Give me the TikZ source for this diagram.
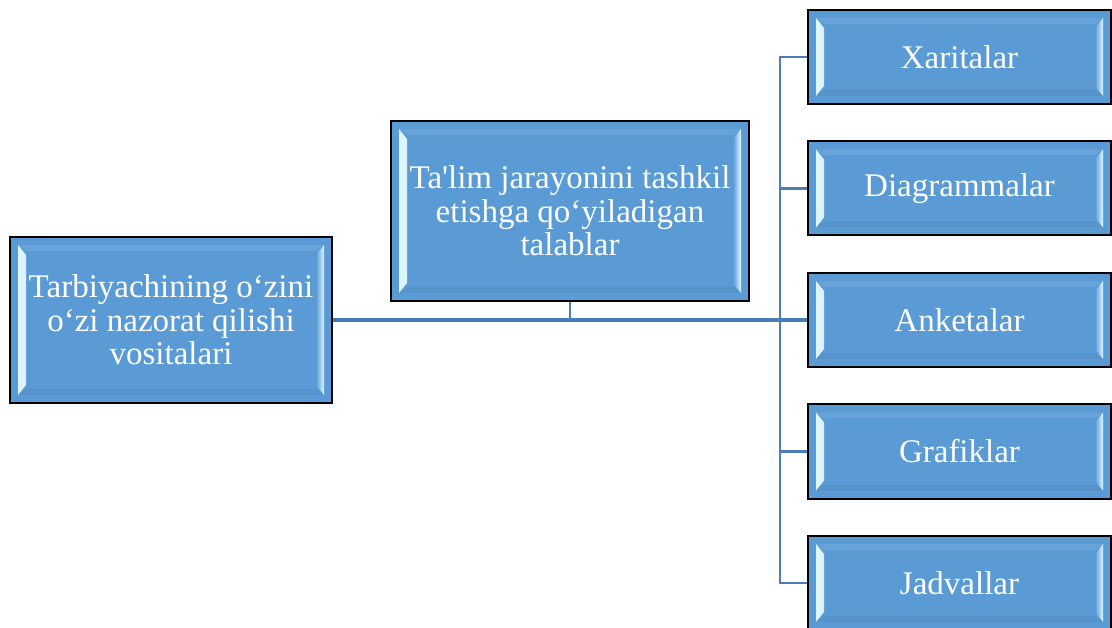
\documentclass[tikz,border=0pt]{standalone}
\usepackage{fontspec}
\setmainfont{Liberation Serif}
\usetikzlibrary{calc}
\definecolor{boxblue}{HTML}{5B9BD5}
\definecolor{bevel}{HTML}{E2F7FF}
\definecolor{linkblue}{HTML}{4A7EB4}
\tikzset{
  bx/.style={draw=black, line width=2pt, fill=boxblue, text=white, align=center,
    inner sep=0pt, font=\fontsize{33}{33.5}\selectfont,
    path picture={
      \shade[left color=bevel, right color=boxblue]
        ([xshift=8pt,yshift=-8pt]path picture bounding box.north west) --
        ([xshift=16pt,yshift=-18pt]path picture bounding box.north west) --
        ([xshift=16pt,yshift=18pt]path picture bounding box.south west) --
        ([xshift=8pt,yshift=8pt]path picture bounding box.south west) -- cycle;
      \shade[right color=bevel, left color=boxblue]
        ([xshift=-8pt,yshift=-8pt]path picture bounding box.north east) --
        ([xshift=-16pt,yshift=-18pt]path picture bounding box.north east) --
        ([xshift=-16pt,yshift=18pt]path picture bounding box.south east) --
        ([xshift=-8pt,yshift=8pt]path picture bounding box.south east) -- cycle;
      \fill[white, opacity=0.08]
        ([xshift=8pt,yshift=-8pt]path picture bounding box.north west) --
        ([xshift=-8pt,yshift=-8pt]path picture bounding box.north east) --
        ([xshift=-16pt,yshift=-14pt]path picture bounding box.north east) --
        ([xshift=16pt,yshift=-14pt]path picture bounding box.north west) -- cycle;
      \fill[black, opacity=0.05]
        ([xshift=8pt,yshift=8pt]path picture bounding box.south west) --
        ([xshift=-8pt,yshift=8pt]path picture bounding box.south east) --
        ([xshift=-16pt,yshift=14pt]path picture bounding box.south east) --
        ([xshift=16pt,yshift=14pt]path picture bounding box.south west) -- cycle;
    }},
  rbox/.style={bx, minimum width=303pt, minimum height=94pt},
  mainlink/.style={draw=linkblue, line width=4.5pt},
  sublink/.style={draw=linkblue, line width=2.5pt}
}
\begin{document}
\begin{tikzpicture}[x=1pt,y=-1pt]
\useasboundingbox (0,0) rectangle (1112,628);
\clip (0,0) rectangle (1112,628);
\node[bx, minimum width=322pt, minimum height=166pt] (L) at (171,320)
  {Tarbiyachining o‘zini\\o‘zi nazorat qilishi\\vositalari};
\node[bx, minimum width=358pt, minimum height=180pt] (M) at (570,211)
  {Ta\textquotesingle lim jarayonini tashkil\\etishga qo‘yiladigan\\talablar};
\node[rbox] (X) at (959.5,57) {Xaritalar};
\node[rbox] (D) at (959.5,188.5) {Diagrammalar};
\node[rbox] (A) at (959.5,320) {Anketalar};
\node[rbox] (G) at (959.5,451.5) {Grafiklar};
\node[rbox] (J) at (959.5,583) {Jadvallar};
\coordinate (bus) at (780,320);
\draw[sublink] (M.south) -- (M.south |- L.east);
\draw[sublink] (X.west) -- (X.west -| bus) -- (J.west -| bus) -- (J.west);
\draw[sublink] (D.west) -- (D.west -| bus);
\draw[sublink] (G.west) -- (G.west -| bus);
\draw[mainlink] (L.east) -- (A.west);
\end{tikzpicture}
\end{document}
